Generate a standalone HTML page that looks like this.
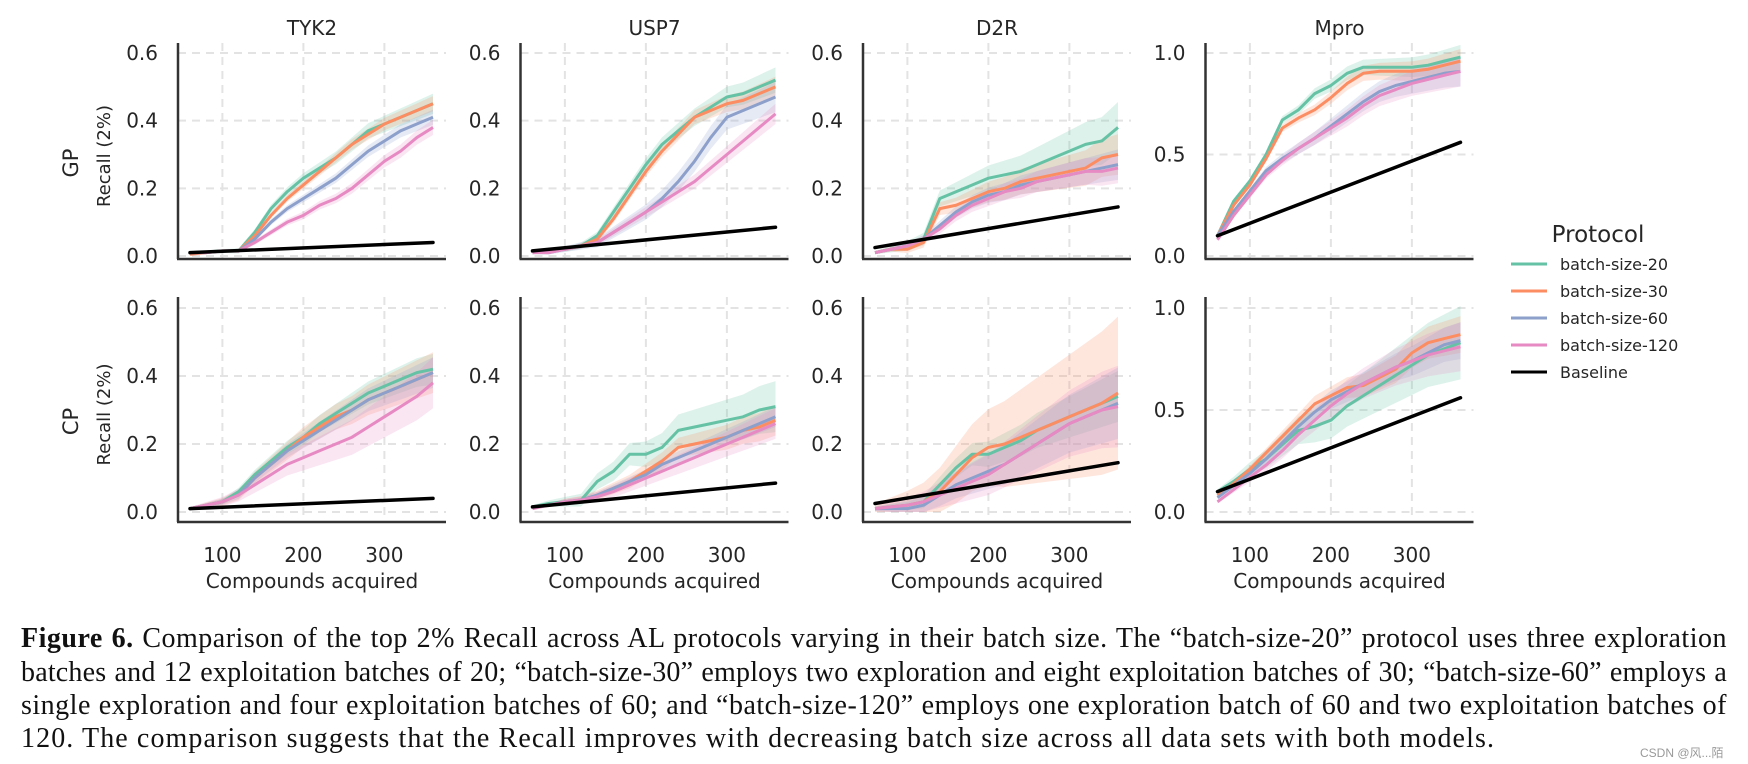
<!DOCTYPE html>
<html><head><meta charset="utf-8"><style>
html,body{margin:0;padding:0;background:#fff;width:1748px;height:764px;overflow:hidden}
svg text{font-family:"DejaVu Sans","Liberation Sans",sans-serif;fill:#262626}
.cap{position:absolute;left:21px;width:1706px;font-family:"Liberation Serif",serif;font-size:28px;letter-spacing:0.5px;color:#111;line-height:33px;height:33px;text-align:justify;text-align-last:justify;white-space:nowrap;overflow:visible}
</style></head><body>
<svg id="fig" width="1748" height="600" style="position:absolute;left:0;top:0"></svg>
<div style="position:absolute;left:0;top:622px;width:1748px;">
<div class="cap" style="top:0"><b>Figure 6.</b> Comparison of the top 2% Recall across AL protocols varying in their batch size. The “batch-size-20” protocol uses three exploration</div>
<div class="cap" style="top:34px;letter-spacing:0.2px">batches and 12 exploitation batches of 20; “batch-size-30” employs two exploration and eight exploitation batches of 30; “batch-size-60” employs a</div>
<div class="cap" style="top:67px">single exploration and four exploitation batches of 60; and “batch-size-120” employs one exploration batch of 60 and two exploitation batches of</div>
<div class="cap" style="top:100px;text-align-last:left;letter-spacing:1.1px">120. The comparison suggests that the Recall improves with decreasing batch size across all data sets with both models.</div>
</div>
<div style="position:absolute;left:1640px;top:744px;font-family:'Liberation Sans','Noto Sans CJK SC',sans-serif;font-size:12px;color:#999">CSDN @风...陌</div>
<script>
const xs=[60,80,100,120,140,160,180,200,220,240,260,280,300,320,340,360];
const targets=["TYK2","USP7","D2R","Mpro"];
const models=["GP","CP"];
const seriesNames=["batch-size-20","batch-size-30","batch-size-60","batch-size-120"];
const colors=["#66c2a5","#fc8d62","#8da0cb","#e78ac3"];
const yMaxes=[0.6,0.6,0.6,1.0];
const yTicksSmall=[0,0.2,0.4,0.6];
const yTicksBig=[0,0.5,1.0];
const xTicks=[100,200,300];
// baseline start/end per panel (GP row then CP row)
const baseStart=[0.01,0.015,0.025,0.1, 0.01,0.015,0.025,0.1];
const baseEnd=[0.04,0.085,0.145,0.56, 0.04,0.085,0.145,0.56];
// GP row
const tyk2GP=[[0.01,0.012,0.015,0.015,0.07,0.14,0.19,0.23,0.26,0.29,0.33,0.37,0.39,0.41,0.43,0.45],
[0.005,0.01,0.015,0.015,0.06,0.12,0.17,0.21,0.25,0.29,0.33,0.36,0.39,0.41,0.43,0.45],
[0.01,0.01,0.015,0.015,0.05,0.10,0.14,0.17,0.20,0.23,0.27,0.31,0.34,0.37,0.39,0.41],
[0.01,0.01,0.015,0.015,0.04,0.07,0.10,0.12,0.15,0.17,0.20,0.24,0.28,0.31,0.35,0.38]];
const usp7GP=[[0.01,0.015,0.02,0.03,0.06,0.13,0.20,0.27,0.33,0.37,0.41,0.44,0.47,0.48,0.50,0.52],
[0.01,0.015,0.02,0.03,0.05,0.11,0.18,0.25,0.31,0.36,0.41,0.43,0.45,0.46,0.48,0.50],
[0.01,0.01,0.02,0.03,0.04,0.07,0.10,0.13,0.17,0.22,0.28,0.35,0.41,0.43,0.45,0.47],
[0.01,0.01,0.02,0.03,0.04,0.07,0.10,0.13,0.16,0.19,0.22,0.26,0.30,0.34,0.38,0.42]];
const d2rGP=[[0.01,0.02,0.03,0.05,0.17,0.19,0.21,0.23,0.24,0.25,0.27,0.29,0.31,0.33,0.34,0.38],
[0.01,0.02,0.02,0.04,0.14,0.15,0.17,0.19,0.20,0.22,0.23,0.24,0.25,0.26,0.29,0.30],
[0.01,0.02,0.03,0.05,0.09,0.13,0.16,0.18,0.19,0.21,0.22,0.23,0.24,0.25,0.26,0.27],
[0.01,0.02,0.03,0.05,0.08,0.12,0.15,0.17,0.19,0.20,0.22,0.23,0.24,0.25,0.25,0.26]];
const mproGP=[[0.1,0.27,0.37,0.5,0.67,0.72,0.8,0.84,0.9,0.93,0.93,0.93,0.93,0.94,0.96,0.98],
[0.1,0.25,0.35,0.48,0.63,0.68,0.72,0.78,0.85,0.9,0.91,0.91,0.91,0.92,0.94,0.96],
[0.1,0.22,0.32,0.42,0.48,0.53,0.58,0.64,0.70,0.76,0.81,0.84,0.86,0.88,0.90,0.91],
[0.08,0.2,0.3,0.4,0.47,0.53,0.58,0.63,0.68,0.74,0.79,0.82,0.85,0.87,0.89,0.91]];
// CP row
const tyk2CP=[[0.01,0.02,0.03,0.06,0.11,0.15,0.19,0.22,0.26,0.29,0.32,0.35,0.37,0.39,0.41,0.42],
[0.01,0.02,0.03,0.05,0.10,0.14,0.18,0.22,0.25,0.28,0.30,0.33,0.35,0.37,0.39,0.41],
[0.01,0.02,0.03,0.05,0.10,0.14,0.18,0.21,0.24,0.27,0.30,0.33,0.35,0.37,0.39,0.41],
[0.01,0.02,0.03,0.05,0.08,0.11,0.14,0.16,0.18,0.20,0.22,0.25,0.28,0.31,0.34,0.38]];
const usp7CP=[[0.015,0.025,0.03,0.035,0.09,0.12,0.17,0.17,0.19,0.24,0.25,0.26,0.27,0.28,0.30,0.31],
[0.015,0.02,0.03,0.035,0.05,0.07,0.09,0.12,0.15,0.19,0.20,0.21,0.22,0.24,0.25,0.27],
[0.015,0.02,0.03,0.035,0.05,0.07,0.09,0.11,0.14,0.16,0.18,0.20,0.22,0.24,0.26,0.28],
[0.01,0.02,0.03,0.035,0.045,0.06,0.08,0.10,0.12,0.14,0.16,0.18,0.20,0.22,0.24,0.26]];
const d2rCP=[[0.01,0.015,0.02,0.03,0.08,0.13,0.17,0.17,0.19,0.21,0.24,0.26,0.28,0.30,0.32,0.34],
[0.01,0.015,0.02,0.03,0.06,0.11,0.16,0.19,0.20,0.22,0.24,0.26,0.28,0.30,0.32,0.35],
[0.01,0.01,0.01,0.02,0.05,0.08,0.10,0.12,0.14,0.17,0.20,0.23,0.26,0.28,0.30,0.32],
[0.01,0.015,0.02,0.03,0.05,0.07,0.09,0.11,0.14,0.17,0.20,0.23,0.26,0.28,0.30,0.31]];
const mproCP=[[0.1,0.15,0.21,0.26,0.33,0.40,0.42,0.45,0.52,0.57,0.62,0.67,0.72,0.77,0.80,0.83],
[0.08,0.14,0.21,0.29,0.37,0.45,0.53,0.57,0.61,0.62,0.66,0.70,0.78,0.83,0.85,0.87],
[0.07,0.13,0.19,0.26,0.34,0.42,0.49,0.55,0.59,0.63,0.67,0.71,0.74,0.78,0.82,0.84],
[0.05,0.11,0.17,0.23,0.30,0.38,0.45,0.52,0.58,0.63,0.67,0.71,0.74,0.77,0.79,0.81]];
const spreads=[[0.02,0.015,0.015,0.015],[0.025,0.02,0.03,0.02],[0.05,0.04,0.03,0.03],[0.04,0.04,0.05,0.05],
[0.03,0.04,0.03,0.05],[0.05,0.03,0.02,0.03],[0.05,0.15,0.07,0.08],[0.12,0.06,0.06,0.08]];
const panelData=[tyk2GP,usp7GP,d2rGP,mproGP,tyk2CP,usp7CP,d2rCP,mproCP];

const NS="http://www.w3.org/2000/svg";
const svg=document.getElementById('fig');
function mk(tag,attrs,parent){const e=document.createElementNS(NS,tag);for(const k in attrs)e.setAttribute(k,attrs[k]);(parent||svg).appendChild(e);return e;}
const rowY0=[256,512], rowTop=[53,308], axTop=[43,297], axBot=[259,522];

for(let r=0;r<2;r++){for(let c=0;c<4;c++){
  const idx=r*4+c, Lx=178+342.5*c, ymax=yMaxes[c];
  const X=x=>Lx+12+(x-60)*0.81;
  const Y=v=>rowY0[r]-v/ymax*(rowY0[r]-rowTop[r]);
  const g=mk('g',{});
  
  
  const ticks=c===3?yTicksBig:yTicksSmall;
  ticks.forEach(t=>{const l=mk('line',{x1:Lx,x2:Lx+268,y1:Y(t),y2:Y(t),stroke:'#e3e3e3','stroke-width':2,'stroke-dasharray':'8,6'},g);
    
    const tx=mk('text',{x:Lx-20,y:Y(t)+7,'text-anchor':'end','font-size':20},g);tx.textContent=t.toFixed(1);
    });
  xTicks.forEach(t=>{const l=mk('line',{x1:X(t),x2:X(t),y1:axTop[r],y2:axBot[r],stroke:'#e3e3e3','stroke-width':2,'stroke-dasharray':'8,6'},g);
    
    if(r===1){const tx=mk('text',{x:X(t),y:562,'text-anchor':'middle','font-size':20},g);tx.textContent=t;
      }});
  const data=panelData[idx];
  data.forEach((s,k)=>{const sp=spreads[idx][k];
    let d='M'+xs.map((x,i)=>X(x)+','+Y(Math.min(ymax*1.05,s[i]+sp*(i+1)/xs.length*1.5))).join('L');
    d+='L'+xs.slice().reverse().map((x,j)=>{const i=xs.length-1-j;return X(x)+','+Y(Math.max(0,s[i]-sp*(i+1)/xs.length*1.5));}).join('L')+'Z';
    const band=mk('path',{d:d,fill:colors[k],'fill-opacity':0.22,stroke:'none'},g);
    });
  data.forEach((s,k)=>{const p=mk('polyline',{points:xs.map((x,i)=>X(x)+','+Y(s[i])).join(' '),fill:'none',stroke:colors[k],'stroke-width':3,'stroke-linejoin':'round'},g);
    });
  const b=mk('line',{x1:X(60),y1:Y(baseStart[idx]),x2:X(360),y2:Y(baseEnd[idx]),stroke:'#000','stroke-width':3.5,'stroke-linecap':'round'},g);
  
  const ay=mk('line',{x1:Lx,x2:Lx,y1:axTop[r],y2:axBot[r],stroke:'#333','stroke-width':2.5},g);
  
  const ax=mk('line',{x1:Lx-1,x2:Lx+268,y1:axBot[r],y2:axBot[r],stroke:'#333','stroke-width':2.5},g);
  
  if(r===0){const t=mk('text',{x:Lx+134,y:35,'text-anchor':'middle','font-size':20},g);t.textContent=targets[c];
    }
  else{const t=mk('text',{x:Lx+134,y:588,'text-anchor':'middle','font-size':20},g);t.textContent='Compounds acquired';
    }
  if(c===0){const cy=(axTop[r]+axBot[r])/2;
    const m=mk('text',{x:0,y:0,'text-anchor':'middle','font-size':21,transform:'translate(78,'+(cy+12)+') rotate(-90)'},g);m.textContent=models[r];
    
    const yl=mk('text',{x:0,y:0,'text-anchor':'middle','font-size':18,transform:'translate(110,'+(cy+5)+') rotate(-90)'},g);yl.textContent='Recall (2%)';
    }
}}
// legend
const lg=mk('g',{});


const lt=mk('text',{x:1598,y:242,'text-anchor':'middle','font-size':23},lg);lt.textContent='Protocol';


const legNames=seriesNames.concat(['Baseline']), legColors=colors.concat(['#000']);
legNames.forEach((n,i)=>{const y=264+27*i;
  const l=mk('line',{x1:1511,x2:1547,y1:y,y2:y,stroke:legColors[i],'stroke-width':3},lg);
  
  
  const t=mk('text',{x:1560,y:y+6,'font-size':16},lg);t.textContent=n;
  
  });
</script>
</body></html>
